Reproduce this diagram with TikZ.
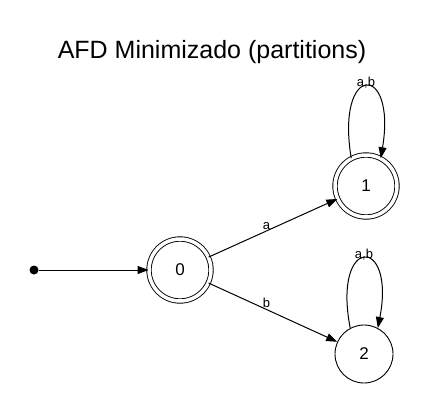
\documentclass[tikz,border=0pt]{standalone}
\usepackage{fontspec}
\setmainfont{Liberation Sans}
\usetikzlibrary{arrows.meta}
\begin{document}
\begin{tikzpicture}[x=1pt,y=-1pt,
  state/.style={circle,draw,line width=0.9pt,minimum size=58pt,inner sep=0pt,font=\fontsize{17}{20}\selectfont},
  accepting/.style={double,double distance=3.5pt,minimum size=62pt},
  edge/.style={-{Triangle[length=11pt,width=8pt]},line width=1pt},
  lbl/.style={font=\fontsize{13}{15}\selectfont,inner sep=1pt}]
\useasboundingbox (0,0) rectangle (427,412);
\node[font=\fontsize{25}{30}\selectfont] (title) at (212,52) {AFD Minimizado (partitions)};
\node[state,accepting] (q0) at (180,270) {0};
\node[state,accepting] (q1) at (366,186) {1};
\node[state] (q2) at (364,354) {2};
\node[circle,fill,inner sep=0pt,minimum size=9pt] (init) at (34,270) {};
\draw[edge] (init) -- (q0);
\draw[edge] (q0) -- node[lbl,above,pos=0.45] {a} (q1);
\draw[edge] (q0) -- node[lbl,above,pos=0.45] {b} (q2);
\draw[edge] (q1.118) .. controls +(-16,-96) and +(16,-96) .. node[lbl,above,pos=0.5,yshift=-3pt] {a,b} (q1.62);
\draw[edge] (q2.118) .. controls +(-18,-93) and +(18,-93) .. node[lbl,above,pos=0.5,yshift=-3pt] {a,b} (q2.62);
\end{tikzpicture}
\end{document}
